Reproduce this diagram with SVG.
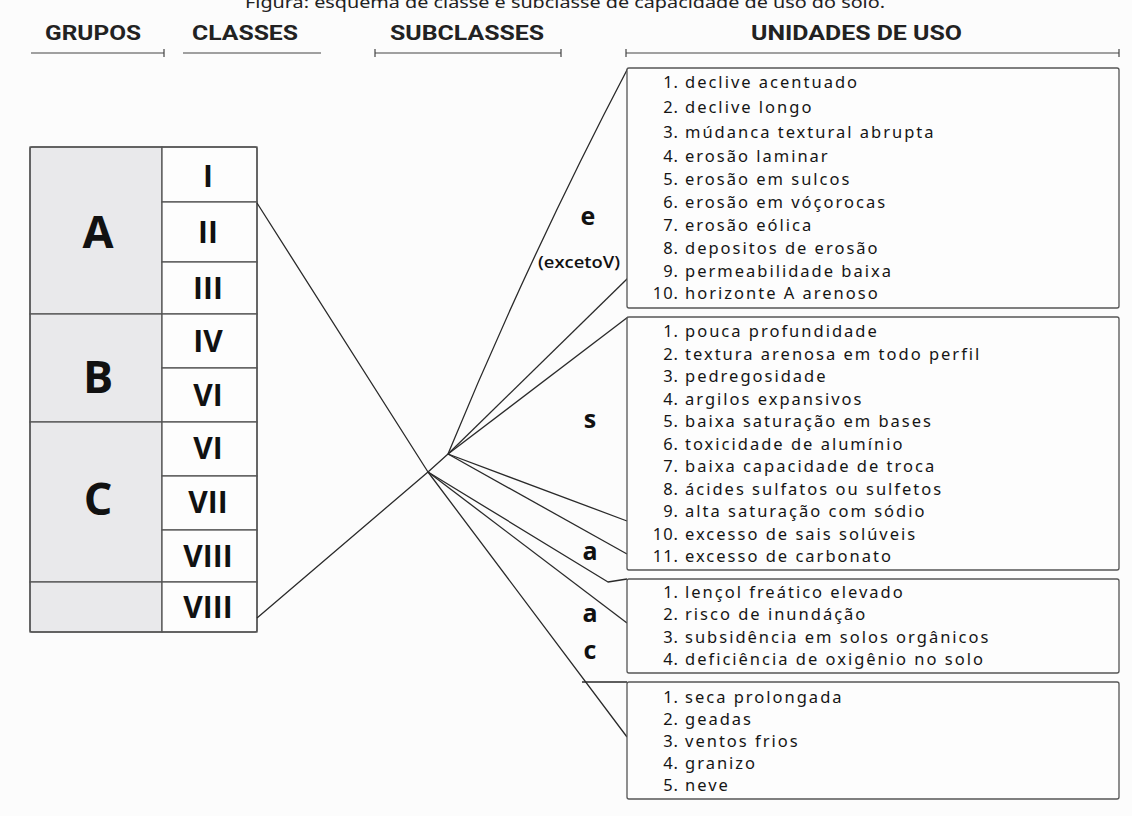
<svg xmlns="http://www.w3.org/2000/svg" width="1132" height="816" viewBox="0 0 1132 816">
<style>
.bg{fill:#fcfcfc}
.hdr{font-family:Roboto,"Liberation Sans",sans-serif;font-weight:700;font-size:20px;fill:#222}
.ul{stroke:#444;stroke-width:1.2;fill:none}
.cell{stroke:#555;stroke-width:1.3}
.grp{fill:#e9e9eb}
.cls{fill:#fdfdfd}
.big{font-family:"Open Sans","Noto Sans",sans-serif;font-weight:700;font-size:45px;fill:#111;text-anchor:middle}
.rom{font-family:"Open Sans","Noto Sans",sans-serif;font-weight:700;font-size:30px;fill:#111;text-anchor:middle}
.sub{font-family:"Open Sans","Noto Sans",sans-serif;font-weight:700;font-size:25px;fill:#111;text-anchor:middle}
.exc{font-family:"Open Sans","Noto Sans",sans-serif;font-weight:600;font-size:16px;fill:#111}
.box{fill:#fdfdfd;stroke:#555;stroke-width:1.3}
.num{font-family:"Noto Sans","Open Sans",sans-serif;font-size:16.5px;fill:#151515;text-anchor:end;letter-spacing:1px}
.lbl{font-family:"Noto Sans","Open Sans",sans-serif;font-size:16.5px;fill:#151515;letter-spacing:2px}
.con{stroke:#2a2a2a;stroke-width:1.3;fill:none;stroke-linejoin:round}
.ttl{font-family:"Noto Sans","Open Sans",sans-serif;font-size:17px;fill:#222}
</style>
<rect class="bg" x="0" y="0" width="1132" height="816"/>
<g id="title">
<text class="ttl" x="245" y="8" textLength="640" lengthAdjust="spacingAndGlyphs">Figura: esquema de classe e subclasse de capacidade de uso do solo.</text>
</g>
<g id="headers">
<text class="hdr" x="45" y="40" textLength="96" lengthAdjust="spacingAndGlyphs">GRUPOS</text>
<text class="hdr" x="192" y="40" textLength="106" lengthAdjust="spacingAndGlyphs">CLASSES</text>
<text class="hdr" x="390" y="40" textLength="154" lengthAdjust="spacingAndGlyphs">SUBCLASSES</text>
<text class="hdr" x="751" y="40" textLength="211" lengthAdjust="spacingAndGlyphs">UNIDADES DE USO</text>
<path class="ul" d="M31,53 H164 M164,49 V57"/>
<path class="ul" d="M183,53 H321"/>
<path class="ul" d="M375,53 H561 M375,49 V57 M561,49 V57"/>
<path class="ul" d="M626,53 H1119 M626,49 V57 M1119,49 V57"/>
</g>
<g id="grupo-A"><rect class="cell grp" x="30" y="147" width="132" height="167"/><text class="big" x="98" y="248">A</text></g>
<g id="grupo-B"><rect class="cell grp" x="30" y="314" width="132" height="108"/><text class="big" x="98" y="393">B</text></g>
<g id="grupo-C"><rect class="cell grp" x="30" y="422" width="132" height="160"/><text class="big" x="98" y="515">C</text></g>
<g id="grupo-vazio"><rect class="cell grp" x="30" y="582" width="132" height="50"/></g>
<g id="classe-I"><rect class="cell cls" x="162" y="147" width="95" height="55"/><text class="rom" x="208" y="187">I</text></g>
<g id="classe-II"><rect class="cell cls" x="162" y="202" width="95" height="60"/><text class="rom" x="208" y="243">II</text></g>
<g id="classe-III"><rect class="cell cls" x="162" y="262" width="95" height="52"/><text class="rom" x="208" y="299">III</text></g>
<g id="classe-IV"><rect class="cell cls" x="162" y="314" width="95" height="54"/><text class="rom" x="208" y="352">IV</text></g>
<g id="classe-VI-B"><rect class="cell cls" x="162" y="368" width="95" height="54"/><text class="rom" x="208" y="406">VI</text></g>
<g id="classe-VI-C"><rect class="cell cls" x="162" y="422" width="95" height="54"/><text class="rom" x="208" y="459">VI</text></g>
<g id="classe-VII"><rect class="cell cls" x="162" y="476" width="95" height="54"/><text class="rom" x="208" y="513">VII</text></g>
<g id="classe-VIII-C"><rect class="cell cls" x="162" y="530" width="95" height="52"/><text class="rom" x="208" y="567">VIII</text></g>
<g id="classe-VIII"><rect class="cell cls" x="162" y="582" width="95" height="50"/><text class="rom" x="208" y="618">VIII</text></g>
<rect x="30" y="147" width="227" height="485" rx="2" fill="none" stroke="#555" stroke-width="1.4"/>
<g id="connectors">
<path class="con" d="M257,203 L428,472 L627,737"/>
<path class="con" d="M257,618 L428,472 L448,454"/>
<path class="con" d="M448,454 Q529,257 628,68"/>
<path class="con" d="M448,454 L628,278"/>
<path class="con" d="M448,454 L628,317"/>
<path class="con" d="M448,454 L627,521"/>
<path class="con" d="M448,454 L627,554"/>
<path class="con" d="M428,472 L608,582 L627,579"/>
<path class="con" d="M428,472 L627,623"/>
<path class="con" d="M582,682 L627,682"/>
</g>
<g id="subclasse-e"><text class="sub" x="588" y="225">e</text><text class="exc" x="538" y="268" textLength="82" lengthAdjust="spacingAndGlyphs">(excetoV)</text></g>
<g id="subclasse-s"><text class="sub" x="590" y="428">s</text></g>
<g id="subclasse-a1"><text class="sub" x="590" y="560">a</text></g>
<g id="subclasse-a2"><text class="sub" x="590" y="622">a</text></g>
<g id="subclasse-c"><text class="sub" x="590" y="659">c</text></g>
<g id="unidades-e">
<rect class="box" x="627" y="68" width="492" height="240" rx="2"/>
<text class="num" x="679" y="88">1.</text><text class="lbl" x="685" y="88">declive acentuado</text>
<text class="num" x="679" y="113">2.</text><text class="lbl" x="685" y="113">declive longo</text>
<text class="num" x="679" y="138">3.</text><text class="lbl" x="685" y="138">múdanca textural abrupta</text>
<text class="num" x="679" y="162">4.</text><text class="lbl" x="685" y="162">erosão laminar</text>
<text class="num" x="679" y="185">5.</text><text class="lbl" x="685" y="185">erosão em sulcos</text>
<text class="num" x="679" y="208">6.</text><text class="lbl" x="685" y="208">erosão em vóçorocas</text>
<text class="num" x="679" y="231">7.</text><text class="lbl" x="685" y="231">erosão eólica</text>
<text class="num" x="679" y="254">8.</text><text class="lbl" x="685" y="254">depositos de erosão</text>
<text class="num" x="679" y="277">9.</text><text class="lbl" x="685" y="277">permeabilidade baixa</text>
<text class="num" x="679" y="299">10.</text><text class="lbl" x="685" y="299">horizonte A arenoso</text>
</g>
<g id="unidades-s">
<rect class="box" x="627" y="317" width="492" height="253" rx="2"/>
<text class="num" x="679" y="337">1.</text><text class="lbl" x="685" y="337">pouca profundidade</text>
<text class="num" x="679" y="359.5">2.</text><text class="lbl" x="685" y="359.5">textura arenosa em todo perfil</text>
<text class="num" x="679" y="382">3.</text><text class="lbl" x="685" y="382">pedregosidade</text>
<text class="num" x="679" y="404.5">4.</text><text class="lbl" x="685" y="404.5">argilos expansivos</text>
<text class="num" x="679" y="427">5.</text><text class="lbl" x="685" y="427">baixa saturação em bases</text>
<text class="num" x="679" y="449.5">6.</text><text class="lbl" x="685" y="449.5">toxicidade de alumínio</text>
<text class="num" x="679" y="472">7.</text><text class="lbl" x="685" y="472">baixa capacidade de troca</text>
<text class="num" x="679" y="494.5">8.</text><text class="lbl" x="685" y="494.5">ácides sulfatos ou sulfetos</text>
<text class="num" x="679" y="517">9.</text><text class="lbl" x="685" y="517">alta saturação com sódio</text>
<text class="num" x="679" y="539.5">10.</text><text class="lbl" x="685" y="539.5">excesso de sais solúveis</text>
<text class="num" x="679" y="562">11.</text><text class="lbl" x="685" y="562">excesso de carbonato</text>
</g>
<g id="unidades-a">
<rect class="box" x="627" y="579" width="492" height="94" rx="2"/>
<text class="num" x="679" y="598">1.</text><text class="lbl" x="685" y="598">lençol freático elevado</text>
<text class="num" x="679" y="620">2.</text><text class="lbl" x="685" y="620">risco de inundáção</text>
<text class="num" x="679" y="642.5">3.</text><text class="lbl" x="685" y="642.5">subsidência em solos orgânicos</text>
<text class="num" x="679" y="665">4.</text><text class="lbl" x="685" y="665">deficiência de oxigênio no solo</text>
</g>
<g id="unidades-c">
<rect class="box" x="627" y="682" width="492" height="117" rx="2"/>
<text class="num" x="679" y="702.5">1.</text><text class="lbl" x="685" y="702.5">seca prolongada</text>
<text class="num" x="679" y="724.5">2.</text><text class="lbl" x="685" y="724.5">geadas</text>
<text class="num" x="679" y="746.5">3.</text><text class="lbl" x="685" y="746.5">ventos frios</text>
<text class="num" x="679" y="769">4.</text><text class="lbl" x="685" y="769">granizo</text>
<text class="num" x="679" y="791">5.</text><text class="lbl" x="685" y="791">neve</text>
</g>
</svg>
